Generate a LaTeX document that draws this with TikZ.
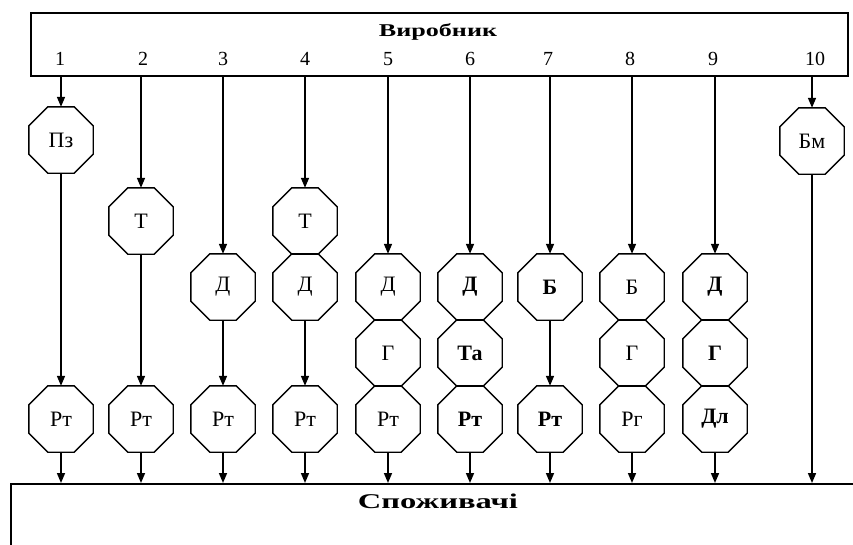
\documentclass[tikz,border=0pt]{standalone}
\usepackage{fontspec}
\usepackage{graphicx}
\setmainfont{Liberation Serif}
\usetikzlibrary{arrows.meta}
\begin{document}
\begin{tikzpicture}[x=1pt,y=-1pt,
  box/.style={draw, line width=1.5pt, inner sep=0pt},
  oct/.style={draw=none, minimum width=64pt, minimum height=66pt, inner sep=0pt, font=\fontsize{22}{24}\selectfont},
  octb/.style={oct, font=\fontsize{22}{24}\selectfont\bfseries},
  arr/.style={line width=1.6pt, -{Triangle[length=10pt,width=8pt]}},
  num/.style={font=\fontsize{20}{22}\selectfont, inner sep=0pt},
  octline/.style={draw, line width=1.4pt},
  ttl/.style={font=\fontsize{18}{20}\selectfont\bfseries, inner sep=0pt},
  ttlc/.style={font=\fontsize{21}{23}\selectfont\bfseries, inner sep=0pt}]
\useasboundingbox (0,0) rectangle (853,544);
\clip (0,0) rectangle (853,544);
% boxes
\node[box, minimum width=817pt, minimum height=63pt, anchor=north west] (P) at (30,12) {};
\node[ttl] (Pt) at (438,32) {\scalebox{1.45}[1]{Виробник}};
\node[box, minimum width=900pt, minimum height=120pt, anchor=north west] (C) at (10,483) {};
\node[ttlc] (Ct) at (438,501) {\scalebox{1.55}[1]{Споживачі}};
% numbers
\foreach \i/\x in {1/60,2/143,3/223,4/305,5/388,6/470,7/548,8/630,9/713,10/815}
  \node[num] (n\i) at (\x,59) {\i};
% octagons
\node[oct] (pz) at (61,140) {Пз};
\node[oct] (r1) at (61,419) {Рт};
\node[oct] (t2) at (141,221) {Т};
\node[oct] (r2) at (141,419) {Рт};
\node[oct] (d3) at (223,287) {Д};
\node[oct] (r3) at (223,419) {Рт};
\node[oct] (t4) at (305,221) {Т};
\node[oct] (d4) at (305,287) {Д};
\node[oct] (r4) at (305,419) {Рт};
\node[oct] (d5) at (388,287) {Д};
\node[oct] (g5) at (388,353) {Г};
\node[oct] (r5) at (388,419) {Рт};
\node[octb] (d6) at (470,287) {Д};
\node[octb] (ta6) at (470,353) {Та};
\node[octb] (r6) at (470,419) {Рт};
\node[octb] (b7) at (550,287) {Б};
\node[octb] (r7) at (550,419) {Рт};
\node[oct] (b8) at (632,287) {Б};
\node[oct] (g8) at (632,353) {Г};
\node[oct] (r8) at (632,419) {Рг};
\node[octb] (d9) at (715,287) {Д};
\node[octb] (g9) at (715,353) {Г};
\node[octb] (dl9) at (715,419) {Дл};
\node[oct] (bm) at (812,141) {Бм};
\foreach \n in {pz,r1,t2,r2,d3,r3,t4,d4,r4,d5,g5,r5,d6,ta6,r6,b7,r7,b8,g8,r8,d9,g9,dl9,bm}
  \draw[octline] ([xshift=19pt]\n.north west) -- ([xshift=-19pt]\n.north east)
    -- ([yshift=-19pt]\n.north east) -- ([yshift=19pt]\n.south east)
    -- ([xshift=-19pt]\n.south east) -- ([xshift=19pt]\n.south west)
    -- ([yshift=19pt]\n.south west) -- ([yshift=-19pt]\n.north west) -- cycle;
% connectors from producer
\foreach \n in {pz,t2,d3,t4,d5,d6,b7,b8,d9,bm}
  \draw[arr] (P.south -| \n) -- (\n);
% internal connectors
\draw[arr] (pz) -- (r1);
\draw[arr] (t2) -- (r2);
\draw[arr] (d3) -- (r3);
\draw[arr] (d4) -- (r4);
\draw[arr] (b7) -- (r7);
% to consumers
\foreach \n in {r1,r2,r3,r4,r5,r6,r7,r8,dl9,bm}
  \draw[arr] (\n) -- (\n |- C.north);
\end{tikzpicture}
\end{document}
